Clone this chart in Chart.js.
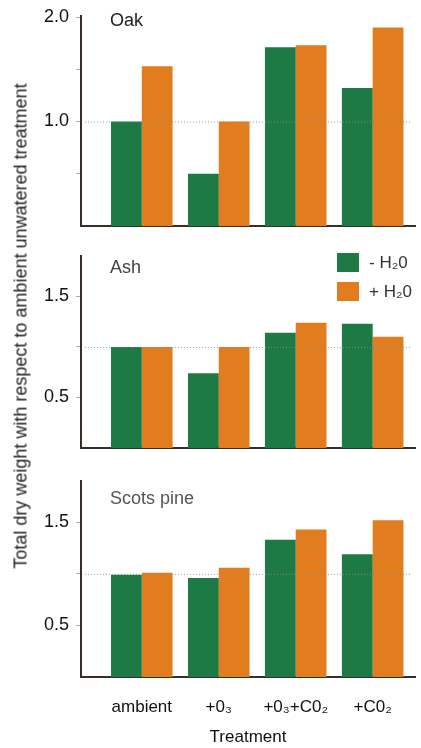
<!DOCTYPE html>
<html>
<head>
<meta charset="utf-8">
<script src="https://cdn.jsdelivr.net/npm/chart.js@4"></script>
<style>
  html, body { margin: 0; padding: 0; background: #fff; }
  #wrap { position: relative; width: 421px; height: 748px; overflow: hidden; font-family: "Liberation Sans", Arial, sans-serif; }
  #wrap canvas { position: absolute; left: 0; }
  #ytitle {
    position: absolute; left: 21px; top: 326px; white-space: nowrap;
    transform: translate(-50%, -50%) rotate(-90deg);
    font-size: 18px; color: #222;
  }
  #legend { position: absolute; left: 337px; top: 248px; font-size: 17px; color: #333; }
  #legend div { display: flex; align-items: center; height: 29px; }
  #legend span.box { display: inline-block; width: 22px; height: 19px; margin-right: 10px; }
</style>
</head>
<body>
<div id="wrap">
  <canvas id="oak" style="top:0px" width="421" height="242"></canvas>
  <canvas id="ash" style="top:240px" width="421" height="224"></canvas>
  <canvas id="pine" style="top:465px" width="421" height="283"></canvas>
  <div id="ytitle">Total dry weight with respect to ambient unwatered treatment</div>
  <div id="legend"></div>
</div>
<script>
// treatments along the x axis
const treatments = ['ambient', '+0\u2083', '+0\u2083+C0\u2082', '+C0\u2082'];
const seriesNames = ['- H\u20820', '+ H\u20820'];
const seriesColors = ['#1d7a45', '#e17d1f'];

// relative dry weight, unwatered (-H2O) and watered (+H2O)
const oakDry = [1.0, 0.5, 1.71, 1.32];
const oakWet = [1.53, 1.0, 1.73, 1.90];
const ashDry = [1.0, 0.74, 1.14, 1.23];
const ashWet = [1.0, 1.0, 1.24, 1.10];
const pineDry = [0.99, 0.96, 1.33, 1.19];
const pineWet = [1.01, 1.06, 1.43, 1.52];

// y ticks per panel; only some of them carry a label
const oakTicks = [0.5, 1.0, 1.5, 2.0];
const oakTickLabels = [2.0, 1.0];
const otherTicks = [0.5, 1.0, 1.5];
const otherTickLabels = [1.5, 0.5];

const refValue = 1.0;
const fontFamily = '"Liberation Sans", Arial, sans-serif';
const axisColor = '#3a2f26';

// dotted line at the ambient level + panel name in the corner
const panelDecor = {
  id: 'panelDecor',
  afterDatasetsDraw(chart, args, opts) {
    const { ctx, chartArea } = chart;
    const y = chart.scales.y.getPixelForValue(refValue);
    ctx.save();
    ctx.strokeStyle = 'rgba(140,140,140,0.85)';
    ctx.lineWidth = 1;
    ctx.setLineDash([1, 2]);
    ctx.beginPath();
    ctx.moveTo(chartArea.left + 4, y + 0.5);
    ctx.lineTo(chartArea.right - 5, y + 0.5);
    ctx.stroke();
    ctx.setLineDash([]);
    ctx.fillStyle = opts.color;
    ctx.font = '18px ' + fontFamily;
    ctx.textBaseline = 'middle';
    ctx.fillText(opts.text, chartArea.left + 29, chartArea.top + opts.dy);
    ctx.restore();
  }
};

function makePanel(id, dry, wet, opts) {
  const bars = (vals) => vals.map((v, i) => ({ x: i, y: v }));
  return new Chart(document.getElementById(id), {
    type: 'bar',
    data: {
      datasets: [
        { label: seriesNames[0], data: bars(dry), backgroundColor: seriesColors[0] },
        { label: seriesNames[1], data: bars(wet), backgroundColor: seriesColors[1] }
      ]
    },
    plugins: [panelDecor],
    options: {
      responsive: false,
      animation: false,
      layout: { padding: { top: opts.padTop, right: 6, left: 0, bottom: 0 } },
      datasets: { bar: { categoryPercentage: 0.8, barPercentage: 1.0 } },
      plugins: {
        legend: { display: false },
        tooltip: { enabled: false },
        panelDecor: { text: opts.name, dy: opts.nameDy, color: opts.nameColor }
      },
      scales: {
        x: {
          type: 'linear',
          offset: false,
          min: -0.79,
          max: 3.55,
          afterBuildTicks: (s) => { s.ticks = treatments.map((t, i) => ({ value: i })); },
          afterFit: (s) => { s.height = opts.xHeight; },
          grid: { drawOnChartArea: false, drawTicks: false },
          border: { color: axisColor, width: 2 },
          ticks: {
            display: opts.showX,
            padding: 20,
            color: '#111',
            font: { family: fontFamily, size: 17 },
            maxRotation: 0,
            callback: (v, i) => treatments[i]
          },
          title: {
            display: opts.showX,
            text: 'Treatment',
            color: '#111',
            padding: { top: 0, bottom: 0 },
            font: { family: fontFamily, size: 17 }
          }
        },
        y: {
          min: 0,
          max: opts.yMax,
          afterBuildTicks: (s) => { s.ticks = opts.ticks.map(v => ({ value: v })); },
          afterFit: (s) => { s.width = 81; },
          grid: { drawOnChartArea: false, tickLength: 5, tickColor: '#aaa' },
          border: { color: axisColor, width: 2 },
          ticks: {
            padding: 7,
            color: '#111',
            font: { family: fontFamily, size: 18, lineHeight: 1 },
            callback: (v) => opts.labels.includes(v) ? v.toFixed(1) : ''
          }
        }
      }
    }
  });
}

makePanel('oak', oakDry, oakWet, {
  name: 'Oak', nameDy: 5, nameColor: '#222', padTop: 15, xHeight: 14,
  yMax: 2.01, ticks: oakTicks, labels: oakTickLabels, showX: false
});
makePanel('ash', ashDry, ashWet, {
  name: 'Ash', nameDy: 12, nameColor: '#444', padTop: 12, xHeight: 12,
  yMax: 1.9, ticks: otherTicks, labels: otherTickLabels, showX: false
});
makePanel('pine', pineDry, pineWet, {
  name: 'Scots pine', nameDy: 18, nameColor: '#555', padTop: 12, xHeight: 71,
  yMax: 1.9, ticks: otherTicks, labels: otherTickLabels, showX: true
});

// legend for the two watering levels
const legend = document.getElementById('legend');
seriesNames.forEach((name, i) => {
  const row = document.createElement('div');
  row.innerHTML = '<span class="box" style="background:' + seriesColors[i] + '"></span>' + name;
  legend.appendChild(row);
});
</script>
</body>
</html>
